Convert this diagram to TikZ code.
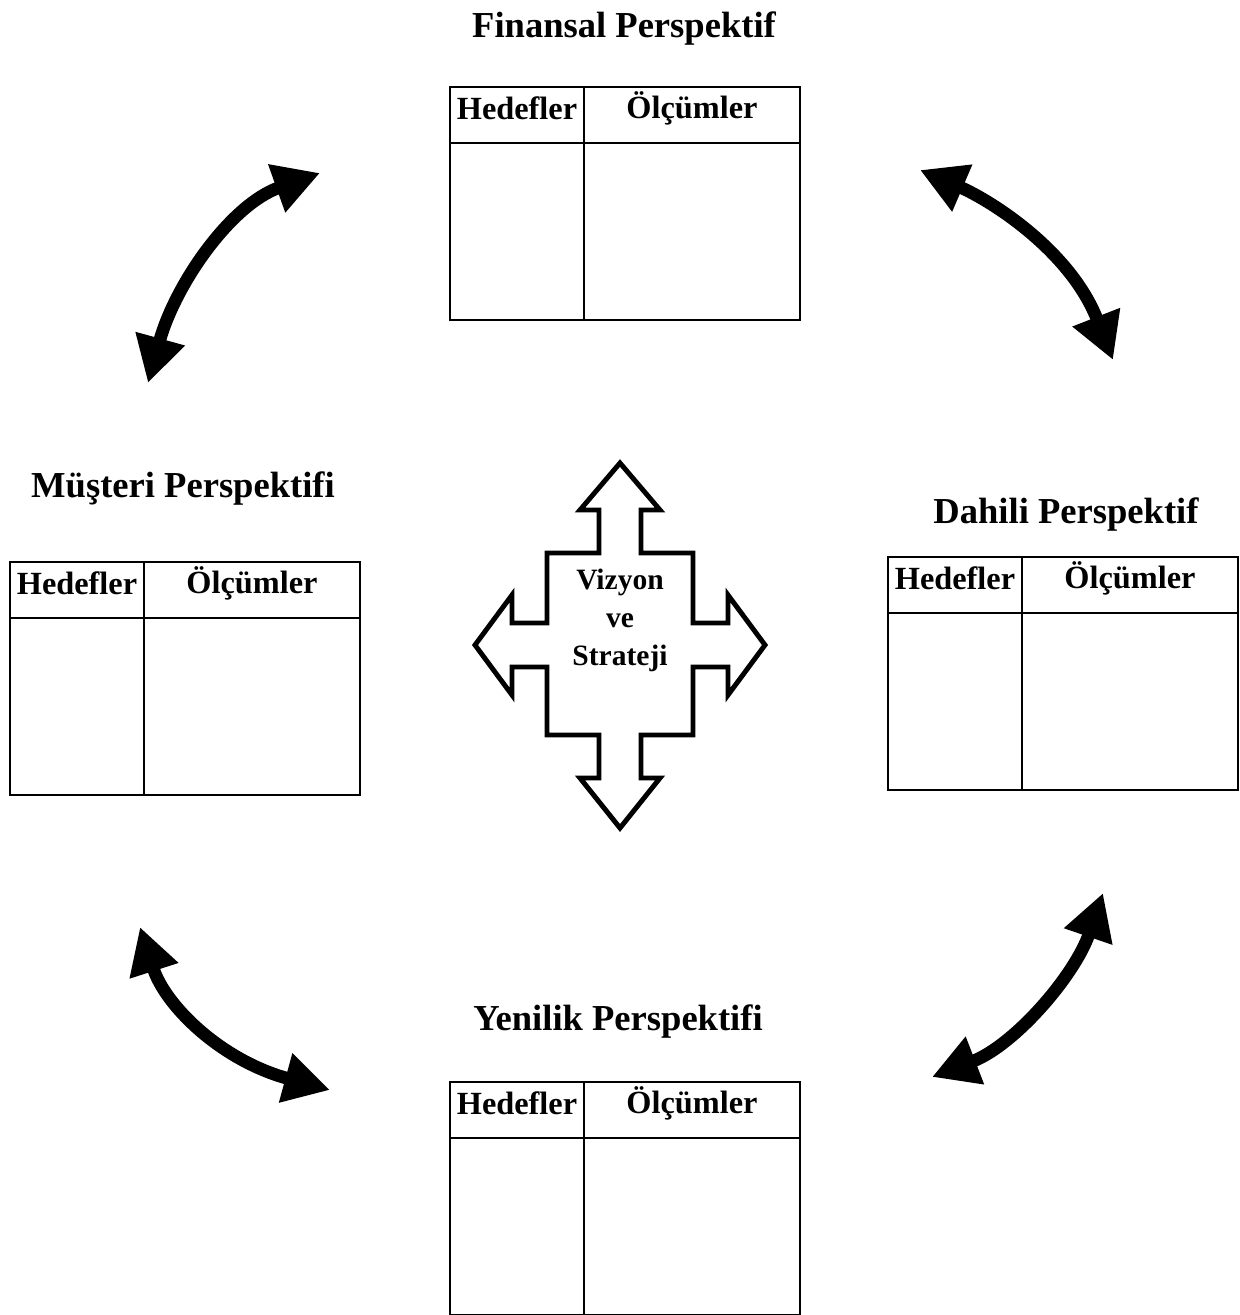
\documentclass[tikz,border=0pt]{standalone}
\usepackage{fontspec}
\setmainfont{Liberation Serif}
\usepackage{tikz}
\usetikzlibrary{arrows.meta,positioning}

\begin{document}
\begin{tikzpicture}[x=0.025cm, y=-0.025cm,
    baslik/.style={font=\fontsize{26}{30}\selectfont\bfseries},
    hucre/.style={font=\fontsize{23}{27}\selectfont\bfseries, inner sep=0pt},
    tablo/.style={draw=black, line width=2pt},
    cift/.style={line width=9pt, {Triangle[length=1.15cm, width=1.2cm]}-{Triangle[length=1.15cm, width=1.2cm]}}]
    \useasboundingbox (0,0) rectangle (1239,1315);
    % Four perspective tables
    \foreach \nm/\x/\y/\tx/\ty/\ttl in {fin/450/87/624/29/{Finansal Perspektif},
                                        mus/10/562/183/489/{Müşteri Perspektifi},
                                        dah/888/557/1066/515/{Dahili Perspektif},
                                        yen/450/1082/618/1022/{Yenilik Perspektifi}} {
        \node[baslik] (\nm-baslik) at (\tx,\ty) {\ttl};
        \draw[tablo] (\x,\y) rectangle ++(350,233);
        \draw[tablo] (\x,\y+56) -- ++(350,0);
        \draw[tablo] (\x+134,\y) -- ++(0,233);
        \node[hucre] (\nm-hedef) at (\x+67,\y+21) {Hedefler};
        \node[hucre] (\nm-olcum) at (\x+242,\y+21) {Ölçümler};
    }
    % Center cross
    \coordinate (merkez) at (620,645);
    \begin{scope}[shift={(merkez)}]
        \draw[line width=3.5pt, line join=miter, fill=white]
            (0,-182) -- (40,-135) -- (21,-135) -- (21,-92) -- (73,-92) -- (73,-22)
            -- (108,-22) -- (108,-50) -- (145,0) -- (108,50) -- (108,22) -- (73,22)
            -- (73,90) -- (21,90) -- (21,133) -- (40,133) -- (0,183) -- (-40,133)
            -- (-21,133) -- (-21,90) -- (-73,90) -- (-73,22) -- (-108,22) -- (-108,50)
            -- (-145,0) -- (-108,-50) -- (-108,-22) -- (-73,-22) -- (-73,-92)
            -- (-21,-92) -- (-21,-135) -- (-40,-135) -- cycle;
        \node[font=\fontsize{21}{27}\selectfont\bfseries, align=center] (vizyon) at (0,-25) {Vizyon\\ve\\Strateji};
    \end{scope}
    % Curved double arrows
    \coordinate (sol-ust-a) at (148,383);
    \coordinate (sol-ust-b) at (320,173);
    \coordinate (sag-ust-a) at (920,170);
    \coordinate (sag-ust-b) at (1113,360);
    \coordinate (sag-alt-a) at (1103,893);
    \coordinate (sag-alt-b) at (932,1077);
    \coordinate (sol-alt-a) at (140,927);
    \coordinate (sol-alt-b) at (330,1090);
    \draw[cift] (sol-ust-a) .. controls (175,285) and (230,205) .. (sol-ust-b);
    \draw[cift] (sag-ust-a) .. controls (990,200) and (1070,250) .. (sag-ust-b);
    \draw[cift] (sag-alt-a) .. controls (1075,975) and (1015,1045) .. (sag-alt-b);
    \draw[cift] (sol-alt-a) .. controls (165,1005) and (220,1060) .. (sol-alt-b);
\end{tikzpicture}
\end{document}
